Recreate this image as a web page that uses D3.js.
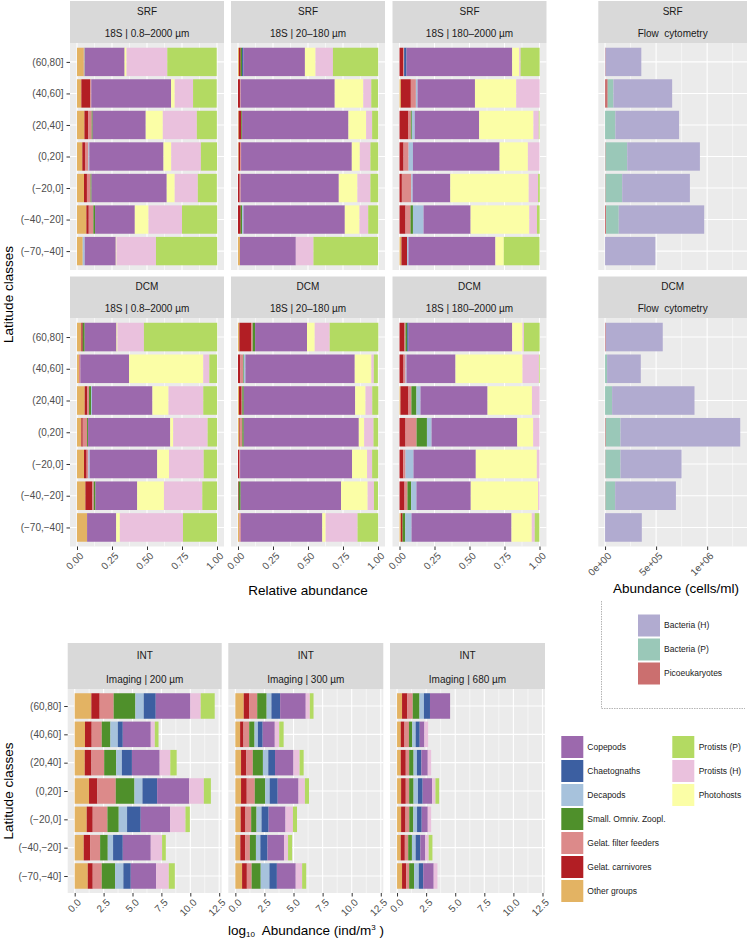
<!DOCTYPE html>
<html><head><meta charset="utf-8">
<script src="https://cdn.jsdelivr.net/npm/d3@7"></script>
<style>
body{margin:0;background:#fff}
svg{display:block}
text{font-family:"Liberation Sans",Arial,Helvetica,sans-serif}
</style>
</head><body>
<svg id="chart" width="747" height="941"></svg>
<script>
// ---------------- DATA ----------------
const latitudes = ["(60,80]","(40,60]","(20,40]","(0,20]","(\u221220,0]","(\u221240,\u221220]","(\u221270,\u221240]"];

const groups18S = ["Other groups","Gelat. carnivores","Gelat. filter feeders","Small. Omniv. Zoopl.","Decapods","Chaetognaths","Copepods","Photohosts","Protists (H)","Protists (P)"];
const groupsFlow = ["Picoeukaryotes","Bacteria (P)","Bacteria (H)"];
const groupsINT = ["Other groups","Gelat. carnivores","Gelat. filter feeders","Small. Omniv. Zoopl.","Decapods","Chaetognaths","Copepods","Protists (H)","Protists (P)"];

const groupColors = {
  "Copepods":"#9c69ad","Chaetognaths":"#3c5fa1","Decapods":"#a7c2dc",
  "Small. Omniv. Zoopl.":"#4f902b","Gelat. filter feeders":"#dc8a8a",
  "Gelat. carnivores":"#b21e24","Other groups":"#e3b363",
  "Protists (P)":"#b3da62","Protists (H)":"#eac1dd","Photohosts":"#fbfea6",
  "Bacteria (H)":"#b1abd0","Bacteria (P)":"#9ac8b8","Picoeukaryotes":"#cb6f6f"
};

// relative abundance, rows = latitudes, columns = groups18S
const srf_08_2000 = [
 [0.048,0,0.004,0.002,0.002,0,0.284,0.014,0.291,0.353],
 [0.031,0.064,0.007,0,0,0,0.570,0.026,0.131,0.169],
 [0.053,0.026,0.026,0.007,0,0,0.379,0.122,0.243,0.143],
 [0.038,0.019,0.024,0,0.007,0,0.530,0.055,0.212,0.115],
 [0.050,0.021,0.026,0.007,0,0,0.537,0.057,0.165,0.136],
 [0.067,0.017,0.033,0.012,0,0,0.284,0.098,0.239,0.251],
 [0.041,0,0,0,0.014,0,0.222,0.005,0.282,0.437]
];
const srf_20_180 = [
 [0.007,0.012,0,0.010,0,0.010,0.439,0.076,0.124,0.323],
 [0,0.014,0.005,0,0,0,0.672,0.204,0.057,0.048],
 [0.005,0.019,0,0.005,0,0,0.760,0.126,0.043,0.043],
 [0.005,0.010,0.007,0,0,0,0.791,0.057,0.076,0.055],
 [0,0.012,0.007,0,0,0,0.701,0.133,0.093,0.055],
 [0,0.019,0,0.010,0.010,0,0.724,0.105,0.062,0.071],
 [0.014,0,0,0,0,0,0.399,0,0.126,0.461]
];
const srf_180_2000 = [
 [0,0.026,0.007,0,0,0.017,0.755,0.050,0.010,0.136],
 [0.010,0.071,0.036,0,0.012,0,0.410,0.295,0.167,0],
 [0,0.064,0.017,0.007,0.021,0,0.460,0.388,0.038,0.005],
 [0,0.029,0.036,0,0.031,0,0.619,0.202,0.083,0],
 [0,0.017,0.067,0,0.010,0,0.269,0.560,0.067,0.012],
 [0,0.043,0.036,0.017,0.076,0,0.336,0.419,0.055,0.019],
 [0.014,0.040,0,0,0.010,0,0.621,0.060,0,0.255]
];
const dcm_08_2000 = [
 [0.031,0.010,0,0.014,0,0,0.227,0.007,0.189,0.523],
 [0.014,0,0.010,0,0,0,0.348,0.530,0.043,0.055],
 [0.055,0.019,0.012,0.014,0.007,0,0.432,0.115,0.248,0.098],
 [0.031,0.010,0.031,0.007,0,0,0.587,0.021,0.246,0.067],
 [0.050,0.019,0.012,0,0.010,0,0.482,0.084,0.248,0.095],
 [0.060,0.050,0.010,0.012,0,0,0.298,0.191,0.274,0.105],
 [0.072,0,0,0,0,0,0.208,0.026,0.451,0.243]
];
const dcm_20_180 = [
 [0.010,0.083,0.012,0.017,0,0,0.371,0.055,0.107,0.347],
 [0,0.017,0.019,0.005,0.012,0,0.781,0.119,0.017,0.029],
 [0.007,0.019,0.005,0.010,0,0,0.796,0.074,0.048,0.043],
 [0.010,0.007,0.014,0.010,0,0,0.822,0.038,0.067,0.033],
 [0,0.010,0.005,0,0,0,0.800,0.107,0.036,0.043],
 [0,0.005,0,0.014,0,0,0.717,0.190,0.045,0.029],
 [0.010,0,0.010,0,0,0,0.582,0.024,0.228,0.147]
];
const dcm_180_2000 = [
 [0,0.036,0.007,0.012,0,0.010,0.740,0.074,0.010,0.112],
 [0,0.029,0.014,0,0.007,0,0.350,0.479,0.117,0.005],
 [0.007,0.057,0.021,0.036,0.029,0,0.479,0.317,0.055,0],
 [0,0.043,0.079,0.074,0.033,0,0.612,0.114,0.045,0],
 [0,0.026,0.017,0,0.057,0,0.445,0.436,0.019,0],
 [0,0.036,0.021,0.026,0.038,0,0.388,0.481,0.010,0],
 [0.010,0.012,0,0.019,0.045,0,0.714,0.145,0.021,0.033]
];

// flow cytometry, cells/ml, columns = groupsFlow
const flow_srf = [
 [5e3,0,3.50e5],[2.6e4,5.6e4,5.75e5],[0,1.01e5,6.24e5],[5e3,2.12e5,7.12e5],
 [5e3,1.63e5,6.63e5],[1e4,1.24e5,8.37e5],[0,0,4.93e5]
];
const flow_dcm = [
 [7e3,0,5.58e5],[0,2.0e4,3.30e5],[0,6.9e4,8.07e5],[7e3,1.44e5,1.173e6],
 [4e3,1.47e5,5.98e5],[4e3,9.5e4,5.95e5],[0,0,3.60e5]
];

// imaging, log10 abundance, columns = groupsINT
const int_200 = [
 [1.44,0.72,1.21,1.88,0.72,1.04,3.00,0.89,1.21],
 [0.89,0.58,0.87,0.75,0.64,0.43,2.42,0.35,0.32],
 [0.87,0.58,1.10,1.04,0.49,0.87,2.40,0.92,0.55],
 [1.24,0.72,1.59,1.62,0.69,1.27,2.77,1.27,0.61],
 [1.04,0.52,1.27,0.98,0.72,1.18,2.54,1.33,0.38],
 [0.78,0.55,0.87,0.66,0.46,0.84,2.42,0.98,0.32],
 [1.13,0.43,0.78,1.15,0.72,0.64,2.19,1.10,0.52]
];
const int_300 = [
 [0.72,0.49,0.67,0.81,0.41,0.75,2.20,0.35,0.32],
 [0.41,0.29,0.49,0.46,0.29,0.41,1.04,0.38,0.38],
 [0.49,0.46,0.55,0.87,0.46,0.58,1.59,0.52,0.35],
 [0.49,0.49,0.69,0.90,0.38,0.69,1.79,0.55,0.35],
 [0.46,0.41,0.49,0.46,0.43,0.61,1.45,0.64,0.35],
 [0.43,0.41,0.41,0.52,0.38,0.61,1.42,0.35,0.35],
 [0.58,0.41,0.41,0.78,0.75,0.64,1.62,0.55,0.35]
];
const int_680 = [
 [0.43,0.46,0.46,0.58,0.38,0.52,1.73,0,0],
 [0.32,0.32,0.38,0.29,0.29,0.35,0.40,0.32,0],
 [0.32,0.43,0.29,0.38,0.29,0.38,0.55,0.29,0],
 [0.35,0.40,0.29,0.38,0.38,0.40,0.81,0.29,0.32],
 [0.35,0.38,0.32,0.35,0.32,0.40,0.52,0.29,0],
 [0.32,0.35,0.29,0.32,0.32,0.40,0.43,0.29,0.32],
 [0.43,0.35,0.26,0.43,0.40,0.38,0.90,0.32,0]
];

const relTicks = [0,0.25,0.5,0.75,1];
const relTickLabels = ["0.00","0.25","0.50","0.75","1.00"];
const flowTicks = [0,5e5,1e6];
const flowTickLabels = ["0e+00","5e+05","1e+06"];
const intTicks = [0,2.5,5,7.5,10,12.5];
const intTickLabels = ["0.0","2.5","5.0","7.5","10.0","12.5"];

const legendCol1 = ["Copepods","Chaetognaths","Decapods","Small. Omniv. Zoopl.","Gelat. filter feeders","Gelat. carnivores","Other groups"];
const legendCol2 = ["Protists (P)","Protists (H)","Photohosts"];
const legendFlow = ["Bacteria (H)","Bacteria (P)","Picoeukaryotes"];

// ---------------- DRAWING ----------------
const svg = d3.select("#chart");

function expanded(max){ return [-0.05*max, 1.05*max]; }
const stackMax = rows => d3.max(rows, r => d3.sum(r));

const relDomain = expanded(1);
const flowDomain = expanded(Math.max(stackMax(flow_srf), stackMax(flow_dcm)));
const intDomain = expanded(Math.max(stackMax(int_200), stackMax(int_300), stackMax(int_680)));

function minorOf(ticks, domain){
  const out = [];
  const step = ticks[1]-ticks[0];
  const first = ticks[0]-step/2;
  for (let v=first; v<=domain[1]; v+=step) if (v>=domain[0]) out.push(v);
  return out;
}

function drawPanel(c){
  const g = svg.append("g");
  const x = d3.scaleLinear().domain(c.domain).range([c.x0, c.x1]);
  const y = d3.scalePoint().domain(latitudes).range([c.top, c.bottom]).padding(0.6);
  const bh = y.step()*0.9;

  // strip
  g.append("rect").attr("x",c.x0).attr("y",c.stripTop).attr("width",c.x1-c.x0)
    .attr("height",c.top-c.stripTop).attr("fill","#d9d9d9");
  const cx = (c.x0+c.x1)/2;
  g.append("text").attr("x",cx).attr("y",c.stripTop+(c.l1off||13.5)).attr("text-anchor","middle")
    .style("font-size","10px").attr("fill","#1a1a1a").text(c.strip1);
  g.append("text").attr("x",cx).attr("y",c.top-6.5).attr("text-anchor","middle")
    .style("font-size","10px").attr("fill","#1a1a1a").text(c.strip2);

  // panel background
  g.append("rect").attr("x",c.x0).attr("y",c.top).attr("width",c.x1-c.x0)
    .attr("height",c.bottom-c.top).attr("fill","#ebebeb");

  // grid
  g.selectAll(".minor").data(minorOf(c.ticks, c.domain)).join("line")
    .attr("x1",d=>x(d)).attr("x2",d=>x(d)).attr("y1",c.top).attr("y2",c.bottom)
    .attr("stroke","#fff").attr("stroke-width",0.55);
  g.selectAll(".major").data(c.ticks).join("line")
    .attr("x1",d=>x(d)).attr("x2",d=>x(d)).attr("y1",c.top).attr("y2",c.bottom)
    .attr("stroke","#fff").attr("stroke-width",1.1);
  g.selectAll(".hgrid").data(latitudes).join("line")
    .attr("x1",c.x0).attr("x2",c.x1).attr("y1",d=>y(d)).attr("y2",d=>y(d))
    .attr("stroke","#fff").attr("stroke-width",1.1);

  // bars
  const rows = latitudes.map((lat,i)=>{
    const o = {lat};
    c.groups.forEach((gr,j)=>o[gr]=c.data[i][j]);
    return o;
  });
  const series = d3.stack().keys(c.groups)(rows);
  g.selectAll(".series").data(series).join("g")
    .attr("fill",s=>groupColors[s.key])
    .selectAll("rect").data(s=>s).join("rect")
    .attr("x",d=>x(d[0])).attr("width",d=>Math.max(0,x(d[1])-x(d[0])))
    .attr("y",d=>y(d.data.lat)-bh/2).attr("height",bh);

  // y axis
  if (c.showY){
    const ax = g.append("g").attr("transform",`translate(${c.x0},0)`)
      .call(d3.axisLeft(y).tickSize(3.5).tickPadding(c.yPad||3));
    ax.select(".domain").remove();
    ax.selectAll(".tick line").attr("stroke","#333").attr("stroke-width",1);
    ax.selectAll(".tick text").attr("fill","#4d4d4d").style("font-size","10px")
      .style("font-family",'"Liberation Sans",Arial,Helvetica,sans-serif');
  }
  // x axis
  if (c.showX){
    const ax = g.append("g").attr("transform",`translate(0,${c.bottom})`)
      .call(d3.axisBottom(x).tickValues(c.ticks).tickSize(3.5)
        .tickFormat((d,i)=>c.tickLabels[i]));
    ax.select(".domain").remove();
    ax.selectAll(".tick line").attr("stroke","#333").attr("stroke-width",1);
    ax.selectAll(".tick text").attr("fill","#4d4d4d").style("font-size","10px")
      .style("font-family",'"Liberation Sans",Arial,Helvetica,sans-serif')
      .attr("x",0).attr("y",0).attr("dy","0.72em")
      .attr("transform","translate(1.5,5) rotate(-45)")
      .style("text-anchor","end");
  }
  return {x,y};
}

// column positions
const colTop = [[70,224],[231,385],[392.5,546.5]];
const colFlow = [598.3,747];
const colInt = [[67.7,221.7],[228.3,383.3],[390,545]];
const sizes = ["18S | 0.8\u20132000 \u00b5m","18S | 20\u2013180 \u00b5m","18S | 180\u20132000 \u00b5m"];
const flowStrip = "Flow\u00a0 cytometry";

const srfData = [srf_08_2000, srf_20_180, srf_180_2000];
const dcmData = [dcm_08_2000, dcm_20_180, dcm_180_2000];

srfData.forEach((d,i)=>drawPanel({x0:colTop[i][0],x1:colTop[i][1],stripTop:1,top:43,bottom:270,
  strip1:"SRF",strip2:sizes[i],data:d,groups:groups18S,domain:relDomain,ticks:relTicks,
  tickLabels:relTickLabels,showY:i===0,showX:false}));
drawPanel({x0:colFlow[0],x1:colFlow[1],stripTop:1,top:43,bottom:270,strip1:"SRF",strip2:flowStrip,
  data:flow_srf,groups:groupsFlow,domain:flowDomain,ticks:flowTicks,tickLabels:flowTickLabels,showY:false,showX:false});

dcmData.forEach((d,i)=>drawPanel({x0:colTop[i][0],x1:colTop[i][1],stripTop:276.5,top:318,bottom:546.5,
  strip1:"DCM",strip2:sizes[i],data:d,groups:groups18S,domain:relDomain,ticks:relTicks,
  tickLabels:relTickLabels,showY:i===0,showX:true}));
drawPanel({x0:colFlow[0],x1:colFlow[1],stripTop:276.5,top:318,bottom:546.5,strip1:"DCM",strip2:flowStrip,
  data:flow_dcm,groups:groupsFlow,domain:flowDomain,ticks:flowTicks,tickLabels:flowTickLabels,showY:false,showX:true});

const intData = [int_200,int_300,int_680];
const intSizes = ["Imaging | 200 \u00b5m","Imaging | 300 \u00b5m","Imaging | 680 \u00b5m"];
intData.forEach((d,i)=>drawPanel({x0:colInt[i][0],x1:colInt[i][1],stripTop:643,top:689,bottom:893,l1off:15.5,
  strip1:"INT",strip2:intSizes[i],data:d,groups:groupsINT,domain:intDomain,ticks:intTicks,
  tickLabels:intTickLabels,showY:i===0,showX:true}));

// axis titles
const titleStyle = s => s.style("font-size","13.5px").attr("fill","#000");
titleStyle(svg.append("text").attr("transform","translate(12.5,294.5) rotate(-90)").attr("text-anchor","middle").text("Latitude classes"));
titleStyle(svg.append("text").attr("transform","translate(12.5,791) rotate(-90)").attr("text-anchor","middle").text("Latitude classes"));
titleStyle(svg.append("text").attr("x",308).attr("y",595).attr("text-anchor","middle").text("Relative abundance"));
titleStyle(svg.append("text").attr("x",676).attr("y",593).attr("text-anchor","middle").text("Abundance (cells/ml)"));
const lt = titleStyle(svg.append("text").attr("x",306).attr("y",935).attr("text-anchor","middle"));
lt.append("tspan").text("log");
lt.append("tspan").attr("dy",2).style("font-size","8px").text("10");
lt.append("tspan").attr("dy",-2).text("\u00a0 Abundance (ind/m");
lt.append("tspan").attr("dy",-5).style("font-size","8px").text("3");
lt.append("tspan").attr("dy",5).text("\u00a0)");

// flow legend box (dotted)
svg.append("path").attr("d","M601.5,601V708.5H745").attr("fill","none")
  .attr("stroke","#b5b5b5").attr("stroke-width",1).attr("stroke-dasharray","1.5,1");

function legend(items, kx, ky, tx){
  const g = svg.append("g");
  const rows = g.selectAll("g").data(items).join("g")
    .attr("transform",(d,i)=>`translate(0,${ky+i*24})`);
  rows.append("rect").attr("x",kx).attr("y",0).attr("width",22).attr("height",22)
    .attr("fill",d=>groupColors[d]);
  rows.append("text").attr("x",tx).attr("y",11).attr("dy","0.35em")
    .style("font-size","8.5px").attr("fill","#1a1a1a").text(d=>d);
}
legend(legendFlow, 638, 614.5, 664);
legend(legendCol1, 561.3, 736, 587.3);
legend(legendCol2, 672.3, 736, 698.7);
</script>
</body></html>
